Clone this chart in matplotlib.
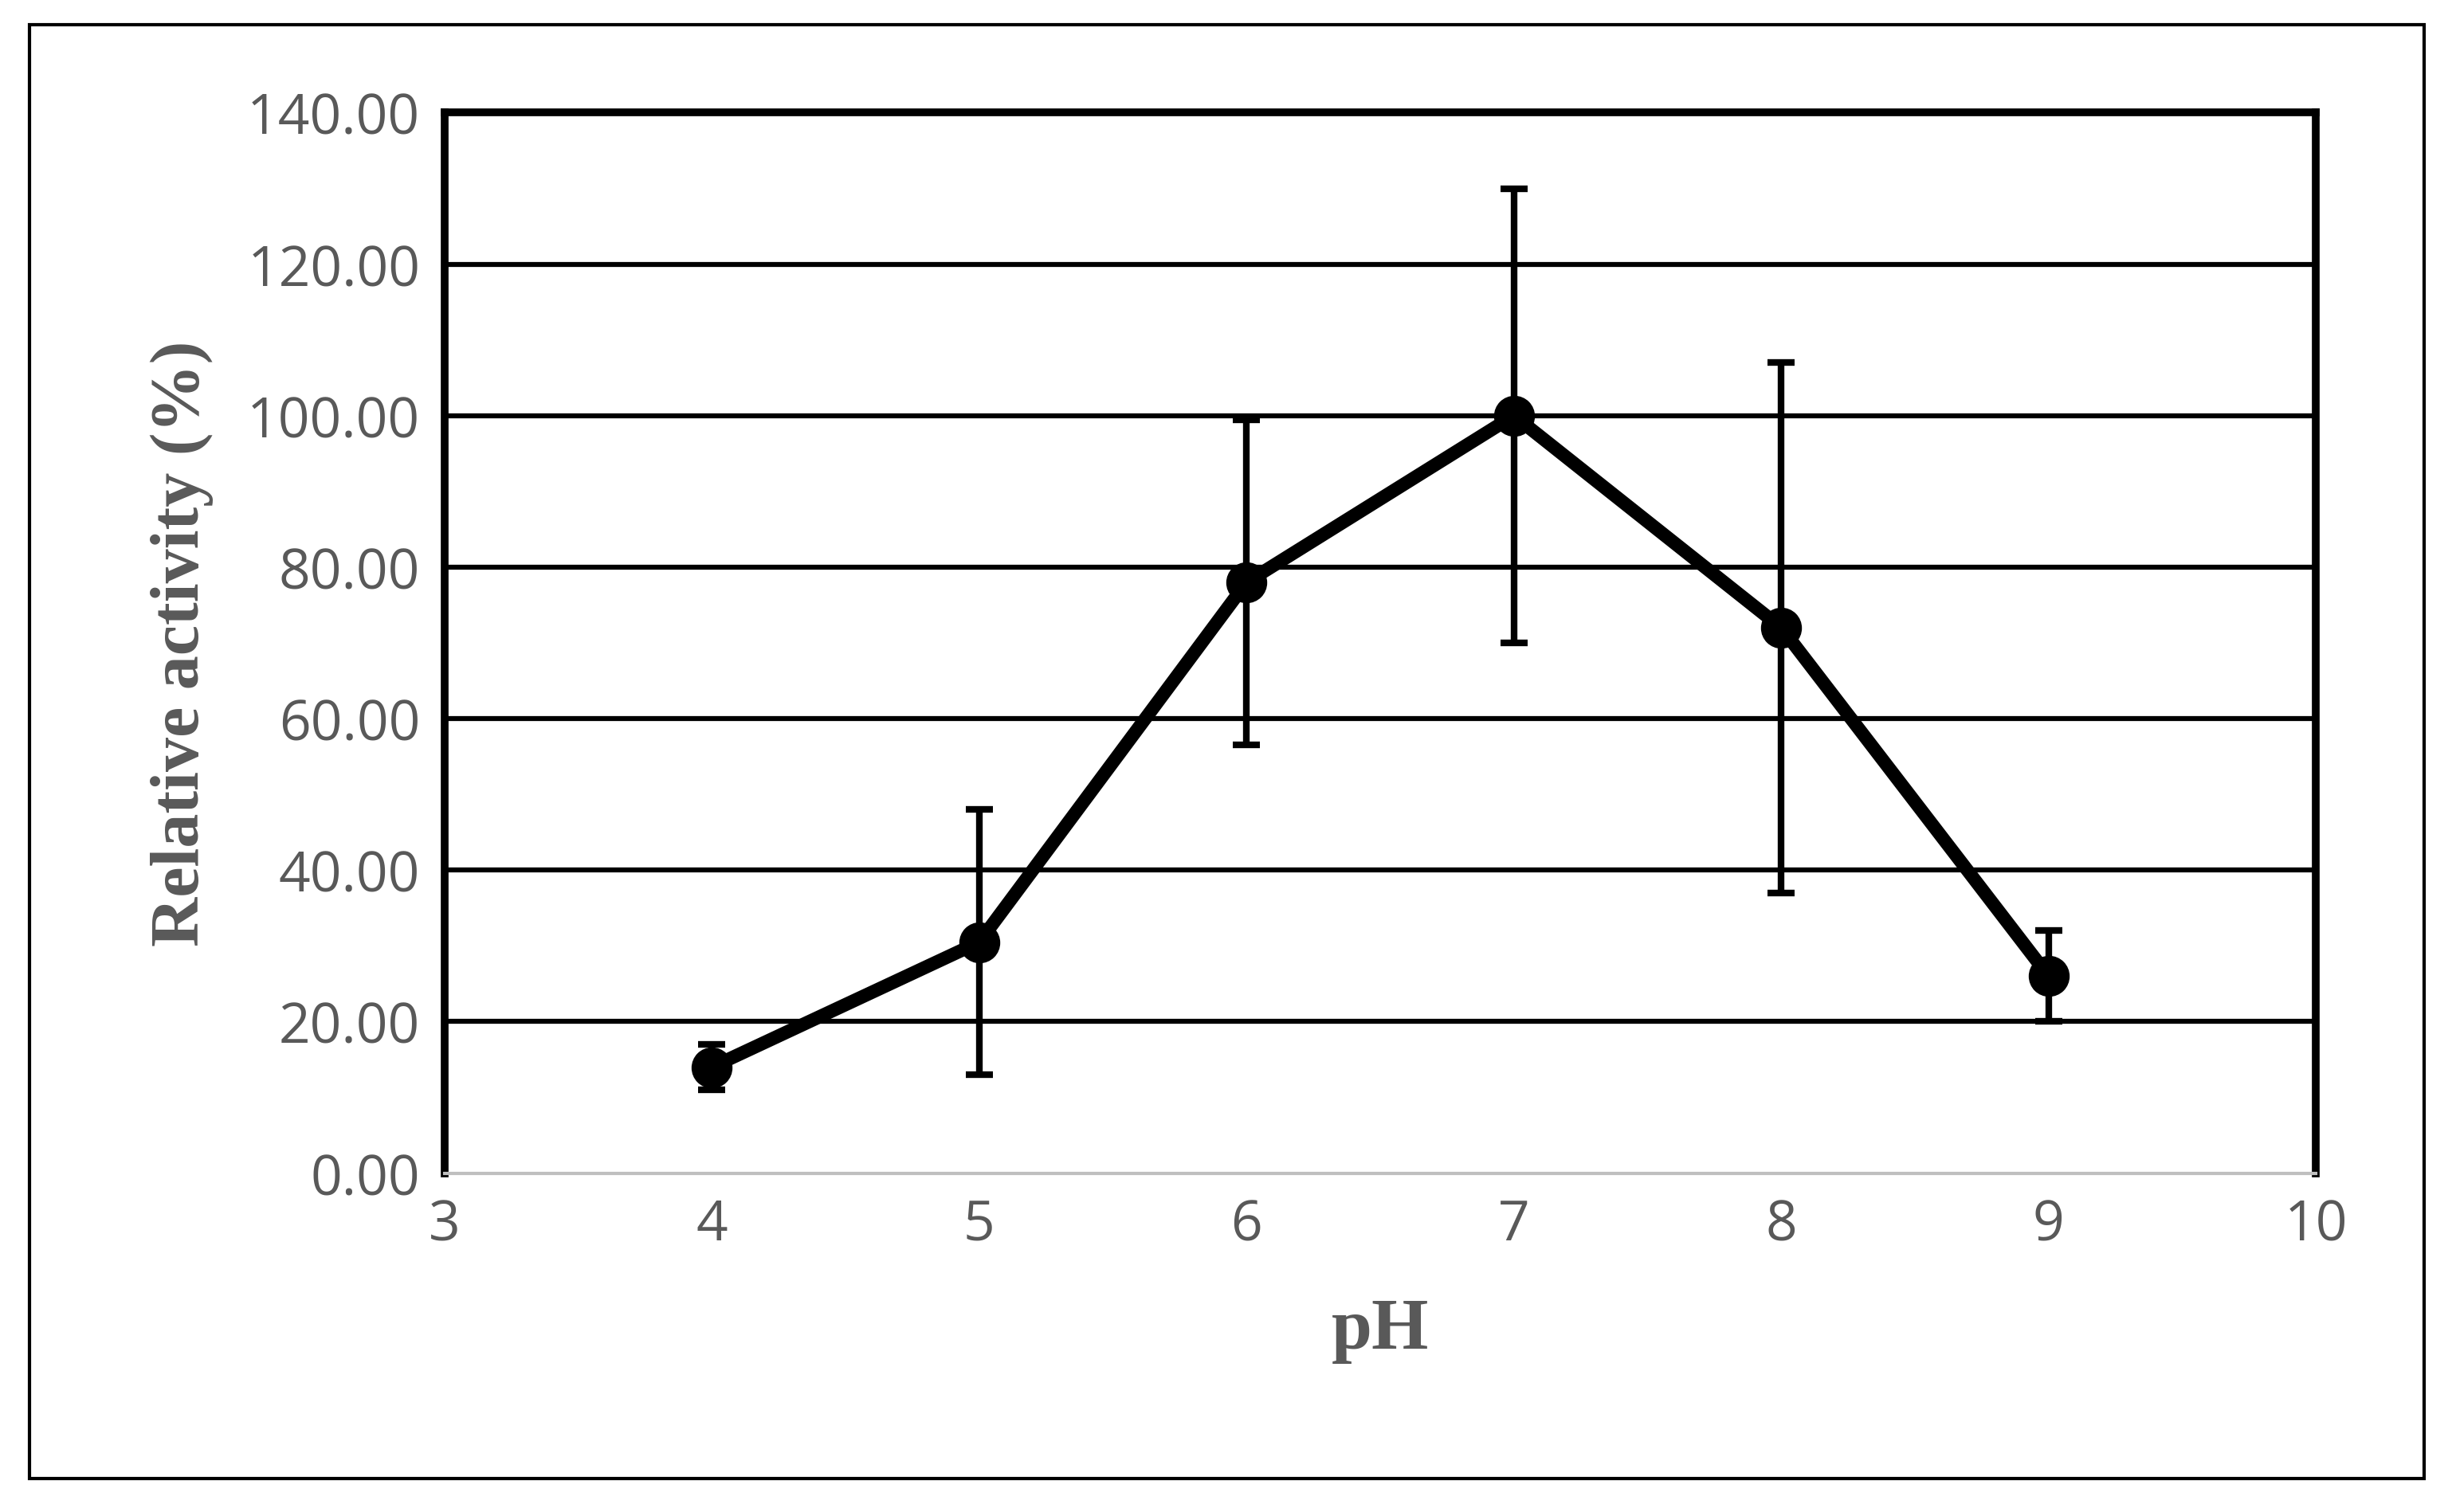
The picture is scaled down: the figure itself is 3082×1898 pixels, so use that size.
import matplotlib.pyplot as plt
from matplotlib.patches import Rectangle

ph = [4, 5, 6, 7, 8, 9]
activity = [14.0, 30.5, 78.0, 100.0, 72.0, 26.0]
err = [3.0, 17.5, 21.5, 30.0, 35.0, 6.0]
yticks = [0, 20, 40, 60, 80, 100, 120, 140]
xticks = [3, 4, 5, 6, 7, 8, 9, 10]

grey = '#595959'
fig = plt.figure(figsize=(30.82, 18.99), dpi=100)
fig.patches.append(Rectangle((0.012, 0.022), 0.975, 0.961, transform=fig.transFigure,
                             fill=False, edgecolor='black', linewidth=3))
ax = fig.add_axes([0.181, 0.224, 0.762, 0.701])

for y in yticks[1:]:
    ax.axhline(y, color='black', linewidth=4.5, zorder=1)

ax.errorbar(ph, activity, yerr=err, color='black', linewidth=12, marker='o',
            markersize=36, ecolor='black', elinewidth=6, capsize=12, capthick=6, zorder=3)

ax.set_xlim(3, 10)
ax.set_ylim(0, 140)
ax.set_xticks(xticks)
ax.set_yticks(yticks)
ax.set_yticklabels([f'{v:.2f}' for v in yticks])
ax.tick_params(length=0, labelsize=50, labelcolor=grey, pad=22)
for lab in ax.get_xticklabels() + ax.get_yticklabels():
    lab.set_family('Open Sans')
for s in ['top', 'left', 'right']:
    ax.spines[s].set_linewidth(7)
ax.spines['bottom'].set_linewidth(3)
ax.spines['bottom'].set_color('#bfbfbf')

ax.set_xlabel('pH', fontsize=66, fontweight='bold', color=grey,
              family='Liberation Serif', labelpad=40)
ax.set_ylabel('Relative activity (%)', fontsize=62, fontweight='bold', color=grey,
              family='Liberation Serif', labelpad=30)

fig.savefig('out.png', dpi=100)
